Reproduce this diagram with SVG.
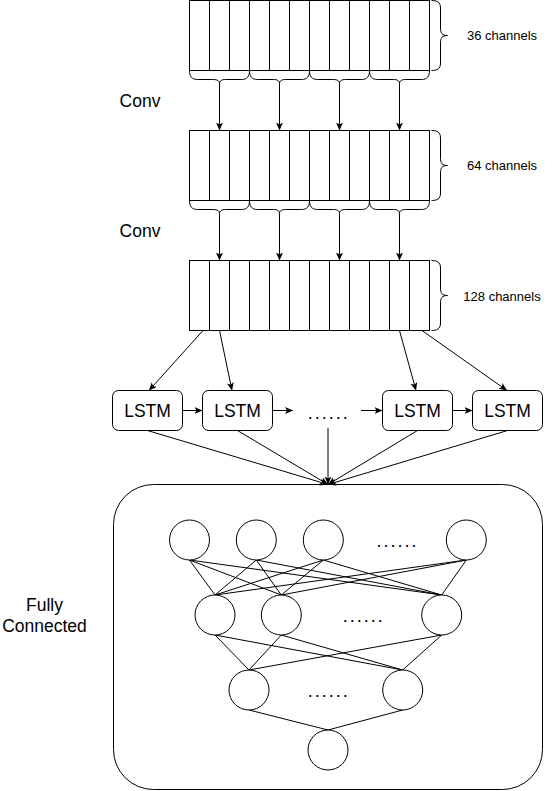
<svg xmlns="http://www.w3.org/2000/svg" xmlns:xlink="http://www.w3.org/1999/xlink" width="557" height="791" viewBox="0 0 557 791">
<style>
.s{fill:none;stroke:#000;stroke-width:1}
.b{fill:#fff;stroke:#000;stroke-width:1}
.t{font-family:"Liberation Sans",Arial,sans-serif;fill:#000}
.lab{font-size:17.5px}
.ch{font-size:13px;text-anchor:middle}
.dots{font-size:18px;letter-spacing:2px}
.a{fill:none;stroke:#000;stroke-width:1;marker-end:url(#arr)}
</style>
<defs>
<marker id="arr" markerUnits="userSpaceOnUse" markerWidth="10" markerHeight="8" refX="8" refY="3.5" orient="auto"><path d="M0,0 L8,3.5 L0,7 L2,3.5 z" fill="#000"/></marker>
<g id="cells">
<rect class="b" x="189.5" y="0.5" width="240" height="70"/>
<path class="s" d="M209.5,0.5V70.5M229.5,0.5V70.5M249.5,0.5V70.5M269.5,0.5V70.5M289.5,0.5V70.5M309.5,0.5V70.5M329.5,0.5V70.5M349.5,0.5V70.5M369.5,0.5V70.5M389.5,0.5V70.5M409.5,0.5V70.5"/>
<path class="s" d="M431.5,0.5 C437,0.5 440.5,2 440.5,8 V28 C440.5,33 442,35.5 447.5,35.5 C442,35.5 440.5,38 440.5,43 V63 C440.5,69 437,70.5 431.5,70.5"/>
</g>
<path id="braces" class="s" d="M189.5,70.5 C189.5,76 191.5,79.5 197.5,79.5 H213.5 C217.5,79.5 219.5,81 219.5,83.5 C219.5,81 221.5,79.5 225.5,79.5 H241.5 C247.5,79.5 249.5,76 249.5,70.5 M249.5,70.5 C249.5,76 251.5,79.5 257.5,79.5 H273.5 C277.5,79.5 279.5,81 279.5,83.5 C279.5,81 281.5,79.5 285.5,79.5 H301.5 C307.5,79.5 309.5,76 309.5,70.5 M309.5,70.5 C309.5,76 311.5,79.5 317.5,79.5 H333.5 C337.5,79.5 339.5,81 339.5,83.5 C339.5,81 341.5,79.5 345.5,79.5 H361.5 C367.5,79.5 369.5,76 369.5,70.5 M369.5,70.5 C369.5,76 371.5,79.5 377.5,79.5 H393.5 C397.5,79.5 399.5,81 399.5,83.5 C399.5,81 401.5,79.5 405.5,79.5 H421.5 C427.5,79.5 429.5,76 429.5,70.5"/>
</defs>

<g id="block36">
<use xlink:href="#cells" href="#cells"/>
<use xlink:href="#braces" href="#braces"/>
<text class="t ch" x="502" y="40">36 channels</text>
</g>
<g id="block64">
<use xlink:href="#cells" href="#cells" y="130"/>
<use xlink:href="#braces" href="#braces" y="130"/>
<text class="t ch" x="502" y="170">64 channels</text>
</g>
<g id="block128">
<use xlink:href="#cells" href="#cells" y="260"/>
<text class="t ch" x="502" y="300.5">128 channels</text>
</g>

<g id="conv-labels">
<text class="t lab" x="140" y="106.5" text-anchor="middle">Conv</text>
<text class="t lab" x="140" y="236.5" text-anchor="middle">Conv</text>
</g>

<g id="lstm1"><rect class="b" x="112.5" y="390.5" width="70" height="40" rx="6"/><text class="t lab" x="147.5" y="416.5" text-anchor="middle">LSTM</text></g>
<g id="lstm2"><rect class="b" x="202.5" y="390.5" width="70" height="40" rx="6"/><text class="t lab" x="237.5" y="416.5" text-anchor="middle">LSTM</text></g>
<g id="lstm-dots"><text class="t dots" x="307.7" y="418.5">......</text></g>
<g id="lstm3"><rect class="b" x="382.5" y="390.5" width="70" height="40" rx="6"/><text class="t lab" x="417.5" y="416.5" text-anchor="middle">LSTM</text></g>
<g id="lstm4"><rect class="b" x="472.5" y="390.5" width="70" height="40" rx="6"/><text class="t lab" x="507.5" y="416.5" text-anchor="middle">LSTM</text></g>

<g id="fc">
<rect class="s" x="113.5" y="484.5" width="429" height="305" rx="40"/>
<text class="t lab" x="44.5" y="610.5" text-anchor="middle">Fully</text>
<text class="t lab" x="44.5" y="631.5" text-anchor="middle">Connected</text>
</g>

<g id="fc-edges">
<path class="s" d="M189.5,560 L215,595 M189.5,560 L281.3,595 M189.5,560 L441.7,595 M256.3,560 L215,595 M256.3,560 L281.3,595 M256.3,560 L441.7,595 M323.3,560 L215,595 M323.3,560 L281.3,595 M323.3,560 L441.7,595 M466.3,560 L215,595 M466.3,560 L281.3,595 M466.3,560 L441.7,595"/>
<path class="s" d="M215,635 L249,670 M215,635 L402.7,670 M281.3,635 L249,670 M281.3,635 L402.7,670 M441.7,635 L249,670 M441.7,635 L402.7,670"/>
<path class="s" d="M249,710 L328,730 M402.7,710 L328,730"/>
</g>

<g id="fc-layer1">
<circle class="b" cx="189.5" cy="540" r="20"/>
<circle class="b" cx="256.3" cy="540" r="20"/>
<circle class="b" cx="323.3" cy="540" r="20"/>
<text class="t dots" x="376.4" y="547">......</text>
<circle class="b" cx="466.3" cy="540" r="20"/>
</g>
<g id="fc-layer2">
<circle class="b" cx="215" cy="615" r="20"/>
<circle class="b" cx="281.3" cy="615" r="20"/>
<text class="t dots" x="342.7" y="622">......</text>
<circle class="b" cx="441.7" cy="615" r="20"/>
</g>
<g id="fc-layer3">
<circle class="b" cx="249" cy="690" r="20"/>
<text class="t dots" x="307.7" y="697">......</text>
<circle class="b" cx="402.7" cy="690" r="20"/>
</g>
<g id="fc-output">
<circle class="b" cx="328" cy="750" r="20"/>
</g>

<g id="connectors">
<path class="a" d="M219.5,83.5 V130.5"/>
<path class="a" d="M279.5,83.5 V130.5"/>
<path class="a" d="M339.5,83.5 V130.5"/>
<path class="a" d="M399.5,83.5 V130.5"/>
<path class="a" d="M219.5,213.5 V260.5"/>
<path class="a" d="M279.5,213.5 V260.5"/>
<path class="a" d="M339.5,213.5 V260.5"/>
<path class="a" d="M399.5,213.5 V260.5"/>
<path class="a" d="M203,330.5 L149,390.5"/>
<path class="a" d="M219.5,330.5 L232,390.5"/>
<path class="a" d="M399.5,330.5 L416,390.5"/>
<path class="a" d="M422,330.5 L507,390.5"/>
<path class="a" d="M182.5,410.5 H202.5"/>
<path class="a" d="M272.5,410.5 H293"/>
<path class="a" d="M361,410.5 H382.5"/>
<path class="a" d="M452.5,410.5 H472.5"/>
<path class="a" d="M147.5,430.5 L328,484.5"/>
<path class="a" d="M237.5,430.5 L328,484.5"/>
<path class="a" d="M328,428 V484.5"/>
<path class="a" d="M417.5,430.5 L328,484.5"/>
<path class="a" d="M507.5,430.5 L328,484.5"/>
</g>
</svg>
